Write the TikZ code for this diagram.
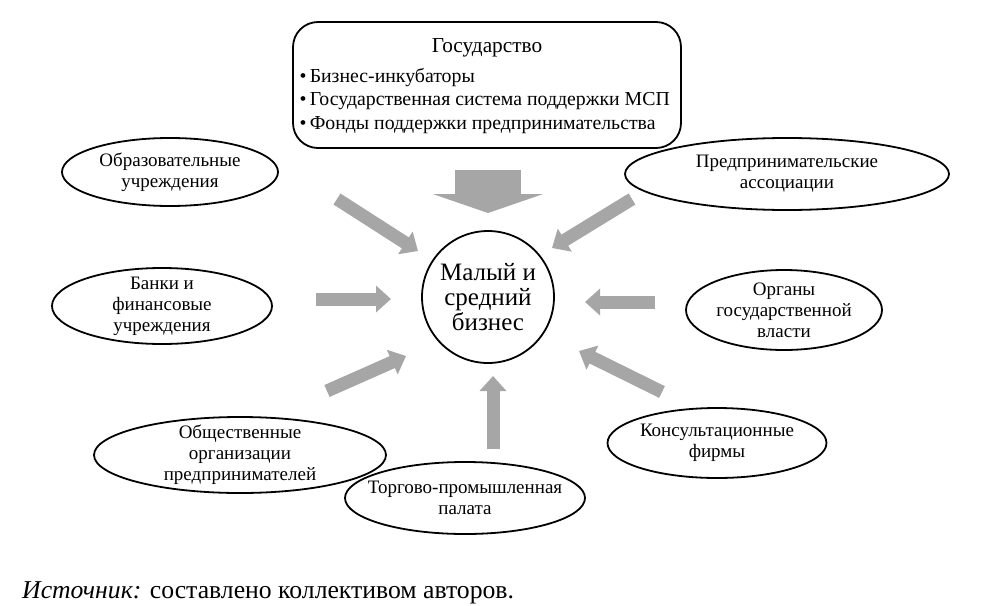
\documentclass[tikz,border=0pt]{standalone}
\usepackage{fontspec}
\setmainfont{Liberation Serif}
\usetikzlibrary{shapes.geometric,arrows.meta}
\definecolor{arrowgray}{HTML}{A6A6A6}
\tikzset{
  ell/.style={draw, ellipse, line width=1.8pt, inner sep=0pt},
  lbl/.style={align=center, font=\fontsize{19}{21}\selectfont},
  garrow/.style={draw=arrowgray, line width=13pt, -{Triangle[width=26pt,length=15pt]}},
  bigarrow/.style={draw=arrowgray, line width=66pt, -{Triangle[width=110pt,length=19pt]}},
}
\begin{document}
\begin{tikzpicture}[x=1pt,y=-1pt]
\useasboundingbox (0,0) rectangle (1003,605);
% State box
\node[draw, rounded corners=25pt, line width=1.8pt, minimum width=388pt, minimum height=126pt] (gos) at (487,85) {};
\node[font=\fontsize{21.3}{24}\selectfont] (gost) at (487,48) {Государство};
\node[anchor=west, align=left, font=\fontsize{19.8}{23.5}\selectfont] (gosl) at (296,101)
  {•\,Бизнес-инкубаторы\\•\,Государственная система поддержки МСП\\•\,Фонды поддержки предпринимательства};
% center circle
\node[draw, circle, line width=1.8pt, minimum size=132pt, inner sep=0pt, align=center,
      font=\fontsize{25}{25}\selectfont] (msb) at (488,297) {Малый и\\средний\\бизнес};
% ellipses
\node[ell, minimum width=216pt, minimum height=68pt, label={[lbl]center:Образовательные\\учреждения}] (e1) at (170,172) {};
\node[ell, minimum width=324pt, minimum height=72pt, label={[lbl]center:Предпринимательские\\ассоциации}] (e2) at (787,174) {};
\node[ell, minimum width=220pt, minimum height=76pt, label={[lbl]center:Банки и\\финансовые\\учреждения}] (e3) at (162,306) {};
\node[ell, minimum width=196pt, minimum height=80pt, label={[lbl]center:Органы\\государственной\\власти}] (e4) at (784,310) {};
\node[ell, minimum width=292pt, minimum height=76pt, label={[lbl]center:Общественные\\организации\\предпринимателей}] (e5) at (240,455) {};
\node[ell, minimum width=219pt, minimum height=70pt, label={[lbl]center:Консультационные\\фирмы}] (e6) at (717,443) {};
\node[ell, minimum width=240pt, minimum height=72pt, label={[lbl]center:Торгово-промышленная\\палата}] (e7) at (465,498) {};
% arrow coordinates
\coordinate (bs) at (488,170); \coordinate (be) at (488,213);
\coordinate (a1s) at (337,199); \coordinate (a1e) at (418,251);
\coordinate (a2s) at (632,199); \coordinate (a2e) at (552,248);
\coordinate (a3s) at (316,299); \coordinate (a3e) at (391,299);
\coordinate (a4s) at (655,302); \coordinate (a4e) at (585,302);
\coordinate (a5s) at (327,391); \coordinate (a5e) at (406,356);
\coordinate (a6s) at (662,392); \coordinate (a6e) at (579,351);
\coordinate (a7s) at (493,449); \coordinate (a7e) at (493,376);
\draw[bigarrow] (bs) -- (be);
\draw[garrow] (a1s) -- (a1e);
\draw[garrow] (a2s) -- (a2e);
\draw[garrow] (a3s) -- (a3e);
\draw[garrow] (a4s) -- (a4e);
\draw[garrow] (a5s) -- (a5e);
\draw[garrow] (a6s) -- (a6e);
\draw[garrow] (a7s) -- (a7e);
% caption
\node[anchor=base west, inner sep=0pt, font=\fontsize{25.7}{28}\selectfont] (src) at (22,598) {\textit{Источник:} составлено коллективом авторов.};
\end{tikzpicture}
\end{document}
